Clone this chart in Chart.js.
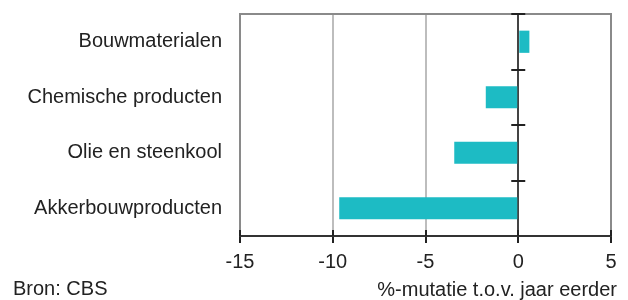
<!DOCTYPE html>
<html>
<head>
<meta charset="utf-8">
<script src="https://cdn.jsdelivr.net/npm/chart.js@4.4.1/dist/chart.umd.min.js"></script>
<style>
  html, body { margin: 0; padding: 0; background: #ffffff; }
  #wrap { position: relative; width: 628px; height: 300px; }
</style>
</head>
<body>
<div id="wrap"><canvas id="c" width="628" height="300"></canvas></div>
<script>
const categories = ['Bouwmaterialen', 'Chemische producten', 'Olie en steenkool', 'Akkerbouwproducten'];
const values = [0.6, -1.75, -3.45, -9.65];
const xTickValues = [-15, -10, -5, 0, 5];
const xMin = -15;
const xMax = 5;
const axisTitle = '%-mutatie t.o.v. jaar eerder';
const sourceText = 'Bron: CBS';

const FONT = '"Liberation Sans", Arial, sans-serif';
const TEXT = '#222222';

const decorPlugin = {
  id: 'decor',
  afterDraw(chart) {
    const { ctx, chartArea, scales } = chart;
    const xs = scales.x, ys = scales.y;
    ctx.save();
    // top frame line
    ctx.strokeStyle = '#8a8a8a';
    ctx.lineWidth = 2;
    ctx.beginPath();
    ctx.moveTo(chartArea.left - 1, chartArea.top);
    ctx.lineTo(chartArea.right + 1, chartArea.top);
    ctx.stroke();
    // category separators on the zero line
    const x0 = xs.getPixelForValue(0);
    ctx.strokeStyle = '#222222';
    ctx.lineWidth = 2;
    for (let i = 0; i < categories.length; i++) {
      const y = Math.round(ys.getPixelForValue(i - 0.5));
      ctx.beginPath();
      ctx.moveTo(x0 - 7, y);
      ctx.lineTo(x0 + 7, y);
      ctx.stroke();
    }
    // upward parts of the x tick marks
    xTickValues.forEach(v => {
      const x = Math.round(xs.getPixelForValue(v));
      ctx.beginPath();
      ctx.moveTo(x, chartArea.bottom - 6);
      ctx.lineTo(x, chartArea.bottom);
      ctx.stroke();
    });
    // axis title and source text
    ctx.fillStyle = TEXT;
    ctx.font = '20px ' + FONT;
    ctx.textBaseline = 'alphabetic';
    ctx.textAlign = 'right';
    ctx.fillText(axisTitle, chartArea.right + 6, 296);
    ctx.textAlign = 'left';
    ctx.fillText(sourceText, 13, 295);
    ctx.restore();
  }
};

new Chart(document.getElementById('c'), {
  type: 'bar',
  data: {
    labels: categories,
    datasets: [{
      data: values,
      backgroundColor: '#1dbbc4',
      borderWidth: 0,
      barPercentage: 0.4,
      categoryPercentage: 1.0
    }]
  },
  options: {
    indexAxis: 'y',
    responsive: false,
    animation: false,
    devicePixelRatio: 1,
    layout: { padding: { left: 0, right: 17, top: 14, bottom: 0 } },
    plugins: {
      legend: { display: false },
      tooltip: { enabled: false },
      title: { display: false }
    },
    scales: {
      x: {
        type: 'linear',
        min: xMin,
        max: xMax,
        afterBuildTicks(scale) {
          scale.ticks = xTickValues.map(v => ({ value: v }));
        },
        afterFit(scale) {
          scale.height = 64;
          scale.paddingLeft = 0;
          scale.paddingRight = 0;
        },
        grid: {
          drawOnChartArea: true,
          drawTicks: true,
          tickLength: 7,
          tickColor: '#222222',
          color(ctx) {
            const v = ctx.tick && ctx.tick.value;
            if (v === 0) return '#444444';
            if (v === xMin || v === xMax) return '#8a8a8a';
            return '#bdbdbd';
          },
          lineWidth: 2
        },
        border: { display: true, color: '#333333', width: 2 },
        ticks: {
          color: TEXT,
          font: { family: FONT, size: 20 },
          padding: 7,
          maxRotation: 0
        },
        title: { display: false }
      },
      y: {
        afterFit(scale) {
          scale.width = 240;
          scale.paddingTop = 0;
          scale.paddingBottom = 0;
        },
        grid: { display: false, drawTicks: false },
        border: { display: false },
        ticks: {
          color: TEXT,
          font: { family: FONT, size: 20 },
          padding: 18
        }
      }
    }
  },
  plugins: [decorPlugin]
});
</script>
</body>
</html>
